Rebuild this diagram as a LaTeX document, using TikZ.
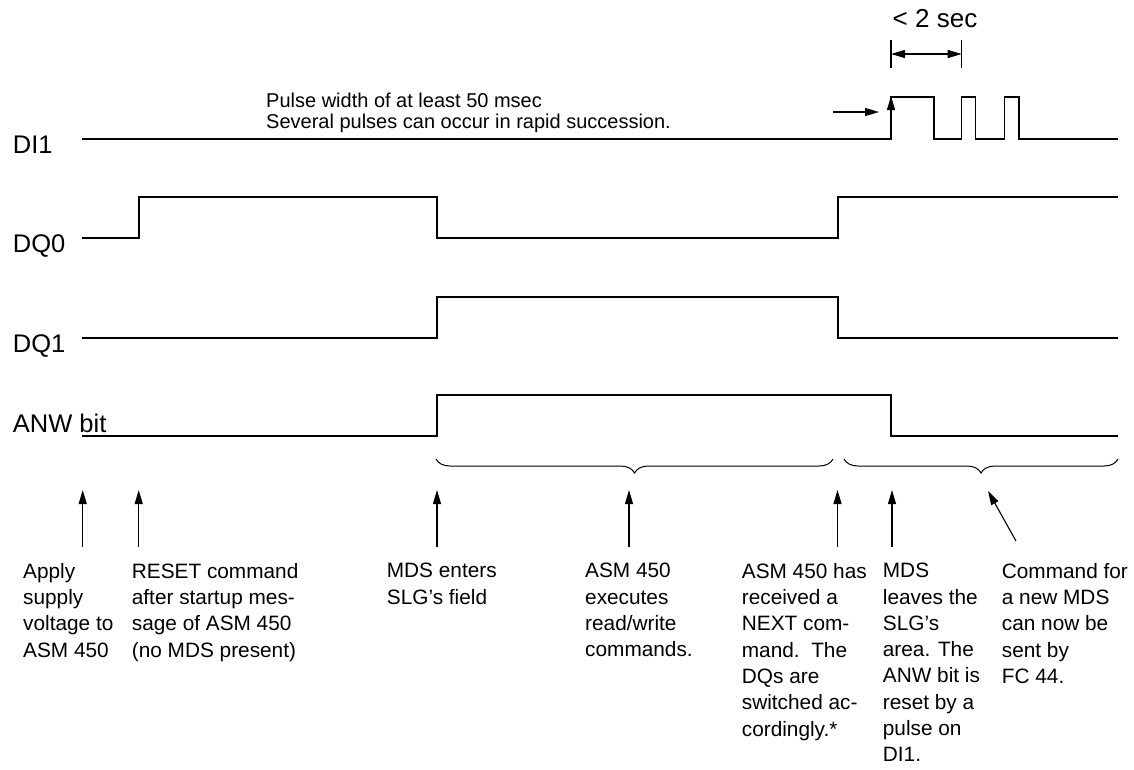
\documentclass[tikz,border=0pt]{standalone}
\usepackage{fontspec}
\setmainfont{Liberation Sans}
\usetikzlibrary{arrows.meta,decorations.pathreplacing}
\begin{document}
\begin{tikzpicture}[x=1pt,y=-1pt,
  wave/.style={line width=1.3pt,line join=miter},
  pointer/.style={line width=1.1pt,-{Triangle[length=14pt,width=8pt]}},
  dimline/.style={line width=1.1pt,{Triangle[length=14pt,width=8pt]}-{Triangle[length=14pt,width=8pt]}},
  signame/.style={font=\fontsize{25.5}{30}\selectfont,anchor=base west,inner sep=0pt},
  note/.style={font=\fontsize{20.8}{26.3}\selectfont,anchor=north west,align=left,inner sep=0pt},
  topnote/.style={font=\fontsize{20}{21}\selectfont,anchor=north west,align=left,inner sep=0pt},
  bracedown/.style={line width=1pt,decorate,decoration={brace,mirror,amplitude=14pt}}]
\useasboundingbox (0,0) rectangle (1134,769);

% signal names
\node[signame] (nDI) at (12.7,153) {DI1};
\node[signame] (nDQ0) at (12.7,252) {DQ0};
\node[signame] (nDQ1) at (12.7,352.7) {DQ1};
\node[signame] (nANW) at (12.7,432) {ANW bit};

% DI1 with a burst of pulses
\draw[wave] (82,139) -- (891,139) -- (891,97) -- (934,97) -- (934,139) -- (961.7,139)
  -- (961.7,97) -- (975.3,97) -- (975.3,139) -- (1004.7,139) -- (1004.7,97) -- (1019,97)
  -- (1019,139) -- (1118,139);
\coordinate (edgeLo) at (891,139);
\coordinate (edgeHi) at (891,96);
\draw[pointer] (edgeLo) -- (edgeHi);
\coordinate (hintA) at (833,112);
\coordinate (hintB) at (879,112);
\draw[pointer] (hintA) -- (hintB);

% pulse-train limit
\coordinate (tickA1) at (891,40);
\coordinate (tickA2) at (891,68);
\coordinate (tickB1) at (961.7,40);
\coordinate (tickB2) at (961.7,68);
\draw[line width=1.1pt] (tickA1) -- (tickA2) (tickB1) -- (tickB2);
\draw[dimline] (tickA1 |- 0,54) -- (tickB1 |- 0,54);
\node[font=\fontsize{26}{30}\selectfont,anchor=base,inner sep=0pt] (lim) at (935,27) {< 2 sec};

\node[topnote] (pulsenote) at (266,93) {Pulse width of at least 50 msec\\Several pulses can occur in rapid succession.};

% DQ0
\draw[wave] (82,238) -- (139,238) -- (139,197) -- (437,197) -- (437,238) -- (838,238)
  -- (838,197) -- (1118,197);
% DQ1
\draw[wave] (82,338) -- (437,338) -- (437,297) -- (838,297) -- (838,338) -- (1118,338);
% ANW bit
\draw[wave] (82,436) -- (437,436) -- (437,395) -- (891,395) -- (891,436) -- (1118,436);

% phase braces
\coordinate (b1s) at (436,459);
\coordinate (b1e) at (833,459);
\coordinate (b2s) at (844,459);
\coordinate (b2e) at (1118,459);
\draw[bracedown] (b1s) -- (b1e);
\draw[bracedown] (b2s) -- (b2e);

% event pointers
\foreach \n/\x in {p1/82.7,p2/138.7,p3/437,p4/629,p5/837.5,p6/892}{
  \coordinate (\n a) at (\x,547);
  \coordinate (\n b) at (\x,490);
  \draw[pointer] (\n a) -- (\n b);
}
\coordinate (p7a) at (1016,541);
\coordinate (p7b) at (988,491);
\draw[pointer] (p7a) -- (p7b);

% event descriptions
\node[note] (t1) at (23,563) {Apply\\supply\\voltage to\\ASM 450};
\node[note] (t2) at (131.7,563) {RESET command\\after startup mes-\\sage of ASM 450\\(no MDS present)};
\node[note] (t3) at (386.7,563) {MDS enters\\SLG’s field};
\node[note] (t4) at (585,563) {ASM 450\\executes\\read/write\\commands.};
\node[note] (t5) at (741.7,563) {ASM 450 has\\received a\\NEXT com-\\mand.\ \ The\\DQs are\\switched ac-\\cordingly.*};
\node[note] (t6) at (882.7,563) {MDS\\leaves the\\SLG’s\\area. The\\ANW bit is\\reset by a\\pulse on\\DI1.};
\node[note] (t7) at (1001.7,563) {Command for\\a new MDS\\can now be\\sent by\\FC 44.};
\end{tikzpicture}
\end{document}
